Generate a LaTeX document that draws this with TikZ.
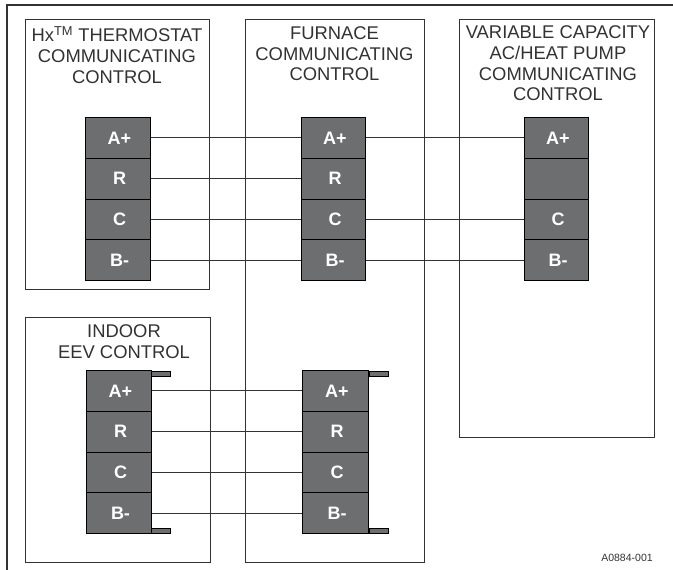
\documentclass[tikz,border=0pt]{standalone}
\usepackage{fontspec}
\setmainfont{Liberation Sans}
\usetikzlibrary{calc}
\definecolor{blockgray}{RGB}{109,110,112}
\definecolor{inkgray}{RGB}{50,50,50}
\tikzset{
    panel/.style={draw=inkgray, line width=0.9pt, inner sep=0pt},
    paneltitle/.style={inkgray, align=center, font=\fontsize{18.4}{20.7}\selectfont, anchor=north},
    termbox/.style={draw=black, fill=blockgray, line width=1pt, inner sep=0pt, text=white,
        minimum width=64.5pt, minimum height=40.8pt, font=\fontsize{18}{20}\selectfont\bfseries},
    wire/.style={black!80, line width=1pt},
    tabbar/.style={draw=black, fill=blockgray, line width=0.8pt, inner sep=0pt,
        minimum width=19pt, minimum height=5pt}
}
\begin{document}
\begin{tikzpicture}[x=1pt, y=-1pt]
    \useasboundingbox (0,0) rectangle (673,570);

    % Outer frame
    \coordinate (framel) at (7,570);
    \coordinate (framec) at (7,5);
    \coordinate (framer) at (673,5);
    \draw[inkgray, line width=2pt] (framel) -- (framec) -- (framer);

    % Control panels
    \node[panel, minimum width=184pt, minimum height=270pt] (thermpanel) at (117,154) {};
    \node[panel, minimum width=179pt, minimum height=543pt] (furnpanel) at (334.5,290.5) {};
    \node[panel, minimum width=195pt, minimum height=418pt] (acpanel) at (556.5,228) {};
    \node[panel, minimum width=185pt, minimum height=245pt] (eevpanel) at (117.5,439.5) {};

    % Titles
    \node[paneltitle] (thermtitle) at (117,23) {Hx\textsuperscript{TM} THERMOSTAT\\COMMUNICATING\\CONTROL};
    \node[paneltitle] (furntitle) at (334.5,23) {FURNACE\\COMMUNICATING\\CONTROL};
    \node[paneltitle] (actitle) at (558,22.5) {VARIABLE CAPACITY\\AC/HEAT PUMP\\COMMUNICATING\\CONTROL};
    \node[paneltitle] (eevtitle) at (124,321) {INDOOR\\EEV CONTROL};

    % Terminal blocks
    \foreach \blk/\x/\ytop/\blkw in {therm/118/117.5/64.5, furn/333.5/117.5/64.5, eev/119/370.5/64.5, furnlow/335.5/370.5/66.5} {
        \foreach \pin/\lab/\row in {A/A+/0, R/R/1, C/C/2, B/B-/3} {
            \node[termbox, minimum width=\blkw pt] (\blk\pin) at (\x,\ytop+20.4+\row*40.8) {\hspace*{3pt}\lab};
        }
    }
    \foreach \pin/\lab/\row in {A/A+/0, R/{}/1, C/C/2, B/B-/3} {
        \node[termbox] (ac\pin) at (556.5,137.9+\row*40.8) {\hspace*{3pt}\lab};
    }

    % Mounting tabs
    \node[tabbar] (eevtabtop) at (160.5,373.5) {};
    \node[tabbar] (eevtabbot) at (160.5,530.5) {};
    \node[tabbar] (furntabtop) at (378.5,373.5) {};
    \node[tabbar] (furntabbot) at (378.5,530.5) {};

    % Wires
    \foreach \pin in {A,R,C,B} {
        \draw[wire] (therm\pin) -- (furn\pin);
        \draw[wire] (eev\pin) -- (furnlow\pin);
    }
    \foreach \pin in {A,C,B} {
        \draw[wire] (furn\pin) -- (ac\pin);
    }

    % Drawing number
    \node[inkgray, font=\fontsize{10.5}{12}\selectfont] (drawno) at (627,558) {A0884-001};
\end{tikzpicture}
\end{document}
